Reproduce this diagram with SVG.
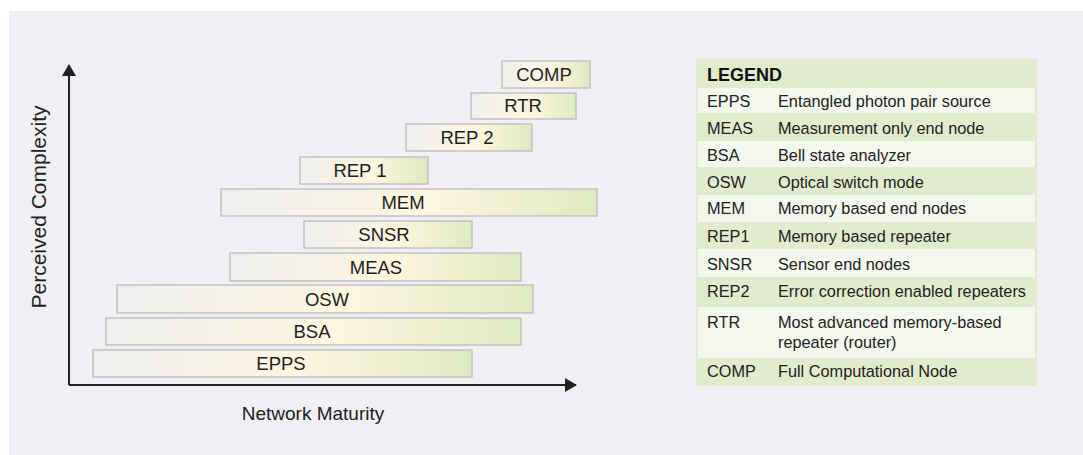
<svg xmlns="http://www.w3.org/2000/svg" width="1083" height="455" viewBox="0 0 1083 455">
<defs>
<linearGradient id="boxg" x1="0" y1="0" x2="1" y2="0">
<stop offset="0" stop-color="#efefef"/>
<stop offset="0.55" stop-color="#fdf5e0"/>
<stop offset="1" stop-color="#dfeac2"/>
</linearGradient>
<marker id="arr" viewBox="0 0 12 14" refX="11" refY="7" markerWidth="12" markerHeight="14" markerUnits="userSpaceOnUse" orient="auto">
<path d="M0,0 L12,7 L0,14 Z" fill="#222"/>
</marker>
<style>
.box{fill:url(#boxg);stroke:#c2c2c2;stroke-width:1.5}
.bl{font-family:"Liberation Sans",Arial,sans-serif;font-size:18.5px;fill:#1e1e1e;text-anchor:middle}
.ax{font-family:"Liberation Sans",Arial,sans-serif;font-size:19px;fill:#222;text-anchor:middle}
.lt{font-family:"Liberation Sans",Arial,sans-serif;font-size:16.3px;fill:#222}
.lh{font-family:"Liberation Sans",Arial,sans-serif;font-size:18px;font-weight:bold;fill:#111}
.g{fill:#e2ebcd}
.w{fill:#f4f7ee}
</style>
</defs>
<rect x="0" y="0" width="1083" height="455" fill="#ffffff"/>
<rect x="9" y="11" width="1074" height="444" fill="#f0f0f4"/>

<g id="connectors">
<line x1="69" y1="385" x2="69" y2="65" stroke="#222" stroke-width="2" marker-end="url(#arr)"/>
<line x1="69" y1="385" x2="576" y2="385" stroke="#222" stroke-width="2" marker-end="url(#arr)"/>
</g>

<text class="ax" x="313" y="420">Network Maturity</text>
<text class="ax" style="font-size:21px" transform="translate(46,207) rotate(-90)">Perceived Complexity</text>

<g id="node-comp"><rect class="box" x="502" y="61" width="88" height="27"/><text class="bl" x="544" y="81">COMP</text></g>
<g id="node-rtr"><rect class="box" x="471" y="93" width="105" height="26"/><text class="bl" x="523" y="112">RTR</text></g>
<g id="node-rep2"><rect class="box" x="406" y="124" width="126" height="27"/><text class="bl" x="467" y="144">REP 2</text></g>
<g id="node-rep1"><rect class="box" x="300" y="157" width="128" height="27"/><text class="bl" x="360" y="177">REP 1</text></g>
<g id="node-mem"><rect class="box" x="221" y="189" width="376" height="27"/><text class="bl" x="403" y="209">MEM</text></g>
<g id="node-snsr"><rect class="box" x="304" y="221" width="168" height="27"/><text class="bl" x="384" y="241">SNSR</text></g>
<g id="node-meas"><rect class="box" x="230" y="253" width="291" height="28"/><text class="bl" x="376" y="274">MEAS</text></g>
<g id="node-osw"><rect class="box" x="117" y="285" width="416" height="28"/><text class="bl" x="327" y="306">OSW</text></g>
<g id="node-bsa"><rect class="box" x="106" y="318" width="415" height="27"/><text class="bl" x="312" y="338">BSA</text></g>
<g id="node-epps"><rect class="box" x="93" y="350" width="379" height="27"/><text class="bl" x="281" y="370">EPPS</text></g>

<g id="legend">
<rect class="g" x="696" y="59" width="341" height="327"/>
<text class="lh" x="707" y="81">LEGEND</text>
<rect class="w" x="698" y="88" width="337" height="25"/>
<text class="lt" x="707" y="107">EPPS</text><text class="lt" x="778" y="107">Entangled photon pair source</text>
<text class="lt" x="707" y="134">MEAS</text><text class="lt" x="778" y="134">Measurement only end node</text>
<rect class="w" x="698" y="141" width="337" height="26"/>
<text class="lt" x="707" y="161">BSA</text><text class="lt" x="778" y="161">Bell state analyzer</text>
<text class="lt" x="707" y="188">OSW</text><text class="lt" x="778" y="188">Optical switch mode</text>
<rect class="w" x="698" y="195" width="337" height="27"/>
<text class="lt" x="707" y="214">MEM</text><text class="lt" x="778" y="214">Memory based end nodes</text>
<text class="lt" x="707" y="242">REP1</text><text class="lt" x="778" y="242">Memory based repeater</text>
<rect class="w" x="698" y="249" width="337" height="28"/>
<text class="lt" x="707" y="270">SNSR</text><text class="lt" x="778" y="270">Sensor end nodes</text>
<text class="lt" x="707" y="297">REP2</text><text class="lt" x="778" y="297">Error correction enabled repeaters</text>
<rect class="w" x="698" y="307" width="337" height="51"/>
<text class="lt" x="707" y="328">RTR</text><text class="lt" x="778" y="328">Most advanced memory-based</text>
<text class="lt" x="778" y="348">repeater (router)</text>
<text class="lt" x="707" y="377">COMP</text><text class="lt" x="778" y="377">Full Computational Node</text>
</g>
</svg>
